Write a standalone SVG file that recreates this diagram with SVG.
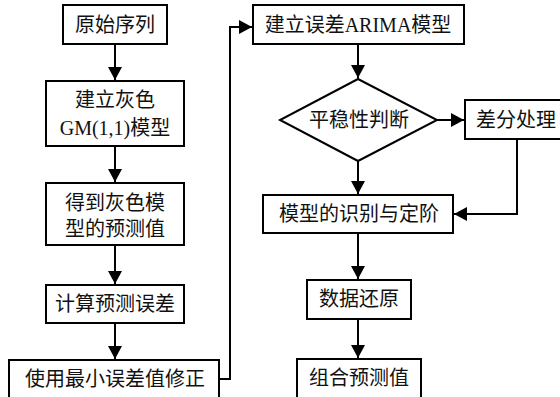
<svg xmlns="http://www.w3.org/2000/svg" width="560" height="397" viewBox="0 0 560 397">
<defs>
<style>
.box{fill:#fff;stroke:#000;stroke-width:2}
.t{font-family:"Liberation Serif","Noto Sans CJK SC",serif;font-size:20px;fill:#111;text-anchor:middle}
.c{fill:none;stroke:#000;stroke-width:2}
</style>
<marker id="ah" markerUnits="userSpaceOnUse" markerWidth="14" markerHeight="14" refX="13" refY="7" orient="auto">
<path d="M0,0 L13,7 L0,14 z" fill="#000"/>
</marker>
</defs>
<rect width="560" height="397" fill="#fff"/>
<g id="connectors">
<line class="c" x1="115" y1="44" x2="115" y2="80" marker-end="url(#ah)"/>
<line class="c" x1="115" y1="146" x2="115" y2="182" marker-end="url(#ah)"/>
<line class="c" x1="115" y1="245" x2="115" y2="284" marker-end="url(#ah)"/>
<line class="c" x1="115" y1="323" x2="115" y2="359" marker-end="url(#ah)"/>
<polyline class="c" points="219,379 230,379 230,27 252,27" marker-end="url(#ah)"/>
<line class="c" x1="358" y1="44" x2="358" y2="78" marker-end="url(#ah)"/>
<line class="c" x1="437" y1="120" x2="464" y2="120" marker-end="url(#ah)"/>
<line class="c" x1="358" y1="161" x2="358" y2="194" marker-end="url(#ah)"/>
<polyline class="c" points="517,139 517,214 454,214" marker-end="url(#ah)"/>
<line class="c" x1="358" y1="233" x2="358" y2="279" marker-end="url(#ah)"/>
<line class="c" x1="358" y1="319" x2="358" y2="358" marker-end="url(#ah)"/>
</g>
<g id="n1"><rect class="box" x="63" y="5" width="104" height="39"/><text class="t" x="115" y="32">原始序列</text></g>
<g id="n2"><rect class="box" x="46" y="81" width="138" height="65"/><text class="t" x="115" y="107">建立灰色</text><text class="t" x="115" y="135">GM(1,1)模型</text></g>
<g id="n3"><rect class="box" x="46" y="183" width="138" height="62"/><text class="t" x="115" y="210">得到灰色模</text><text class="t" x="115" y="236">型的预测值</text></g>
<g id="n4"><rect class="box" x="46" y="285" width="138" height="38"/><text class="t" x="115" y="311">计算预测误差</text></g>
<g id="n5"><rect class="box" x="9" y="360" width="210" height="45"/><text class="t" x="115" y="386">使用最小误差值修正</text></g>
<g id="n6"><rect class="box" x="253" y="5" width="211" height="39"/><text class="t" x="358" y="32">建立误差ARIMA模型</text></g>
<g id="n7"><polygon class="box" points="358,79 437,120 358,161 280,120"/><text class="t" x="359" y="127">平稳性判断</text></g>
<g id="n8"><rect class="box" x="465" y="100" width="100" height="39"/><text class="t" x="516" y="127">差分处理</text></g>
<g id="n9"><rect class="box" x="263" y="195" width="190" height="38"/><text class="t" x="359" y="221">模型的识别与定阶</text></g>
<g id="n10"><rect class="box" x="307" y="280" width="104" height="39"/><text class="t" x="359" y="306">数据还原</text></g>
<g id="n11"><rect class="box" x="297" y="359" width="124" height="45"/><text class="t" x="359" y="385">组合预测值</text></g>
</svg>
